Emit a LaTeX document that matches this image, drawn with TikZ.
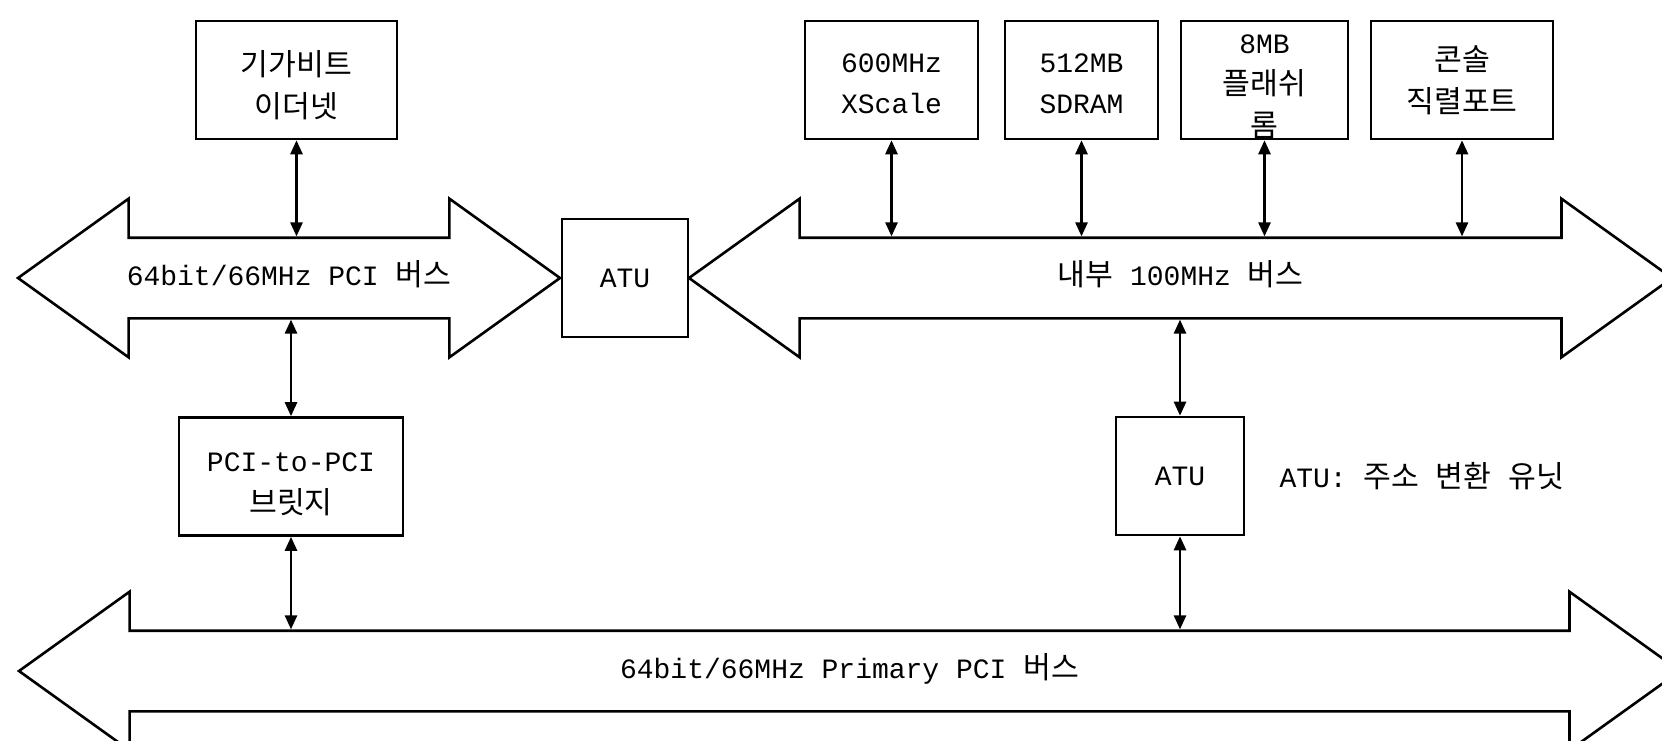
\documentclass[tikz,border=0pt]{standalone}
\usepackage{fontspec}
\setmainfont{Liberation Mono}
\newfontfamily\krfont{Noto Sans CJK KR}[Scale=1.08]
\usetikzlibrary{shapes.arrows, positioning, arrows.meta}

\begin{document}
\begin{tikzpicture}[
    x=1pt, y=-1pt,
    every node/.style={font=\fontsize{28}{42}\selectfont},
    unit/.style={
        rectangle,
        draw=black,
        line width=2.6pt,
        minimum height=118pt,
        inner sep=0pt,
        align=center
    },
    lines/.style={text height=#1, text depth=2pt},
    kr/.style={font=\fontsize{28}{42}\selectfont\krfont},
    bus/.style={
        double arrow,
        draw=black,
        line width=2.6pt,
        double arrow tip angle=71.3,
        double arrow head extend=39pt,
        inner xsep=0pt,
        inner ysep=26pt,
        text height=20pt,
        text depth=6pt,
        minimum width=156pt
    },
    link/.style={
        <->,
        line width=2.6pt,
        >={Triangle[length=14pt, width=12pt]}
    }
]
    \useasboundingbox (0,0) rectangle (1662,741);

    % Buses
    \node[bus, minimum height=542pt] (pcibus) at (289,278) {64bit/66MHz PCI {\krfont 버스}};
    \node[bus, minimum height=983pt] (intbus) at (1180.5,278) {{\krfont 내부} 100MHz {\krfont 버스}};
    \node[bus, minimum height=1661pt] (pribus) at (849.5,671) {64bit/66MHz Primary PCI {\krfont 버스}};

    % Address translation units
    \node[unit, minimum width=126pt] (atua) at (625,278) {ATU};
    \node[unit, minimum width=128pt] (atub) at (1180,476) {ATU};
    \node[right=34pt of atub, inner sep=0pt] (legend) {ATU: {\krfont 주소} {\krfont 변환} {\krfont 유닛}};

    % Devices on the PCI side
    \node[unit, lines=77pt, kr, minimum width=201pt] (gbe) at (296.5,80) {기가비트\\이더넷};
    \node[unit, lines=75pt, minimum width=224pt] (bridge) at (291,476.5) {PCI-to-PCI\\{\krfont 브릿지}};

    % Devices on the internal bus
    \node[unit, lines=70pt, minimum width=173pt] (cpu) at (891.5,80) {600MHz\\XScale};
    \node[unit, lines=70pt, minimum width=153pt] (sdram) at (1081.5,80) {512MB\\SDRAM};
    \node[unit, lines=116pt, minimum width=167pt] (flash) at (1264.5,80) {8MB\\{\krfont 플래쉬}\\{\krfont 롬}};
    \node[unit, lines=68pt, kr, minimum width=182pt] (console) at (1462,80) {콘솔\\직렬포트};

    % Links
    \draw[link] (gbe.south) -- (gbe.south |- pcibus.north);
    \draw[link] (pcibus.south -| bridge.north) -- (bridge.north);
    \draw[link] (bridge.south) -- (bridge.south |- pribus.north);
    \draw[link] (cpu.south) -- (cpu.south |- intbus.north);
    \draw[link] (sdram.south) -- (sdram.south |- intbus.north);
    \draw[link] (flash.south) -- (flash.south |- intbus.north);
    \draw[link] (console.south) -- (console.south |- intbus.north);
    \draw[link] (intbus.south -| atub.north) -- (atub.north);
    \draw[link] (atub.south) -- (atub.south |- pribus.north);

\end{tikzpicture}
\end{document}
